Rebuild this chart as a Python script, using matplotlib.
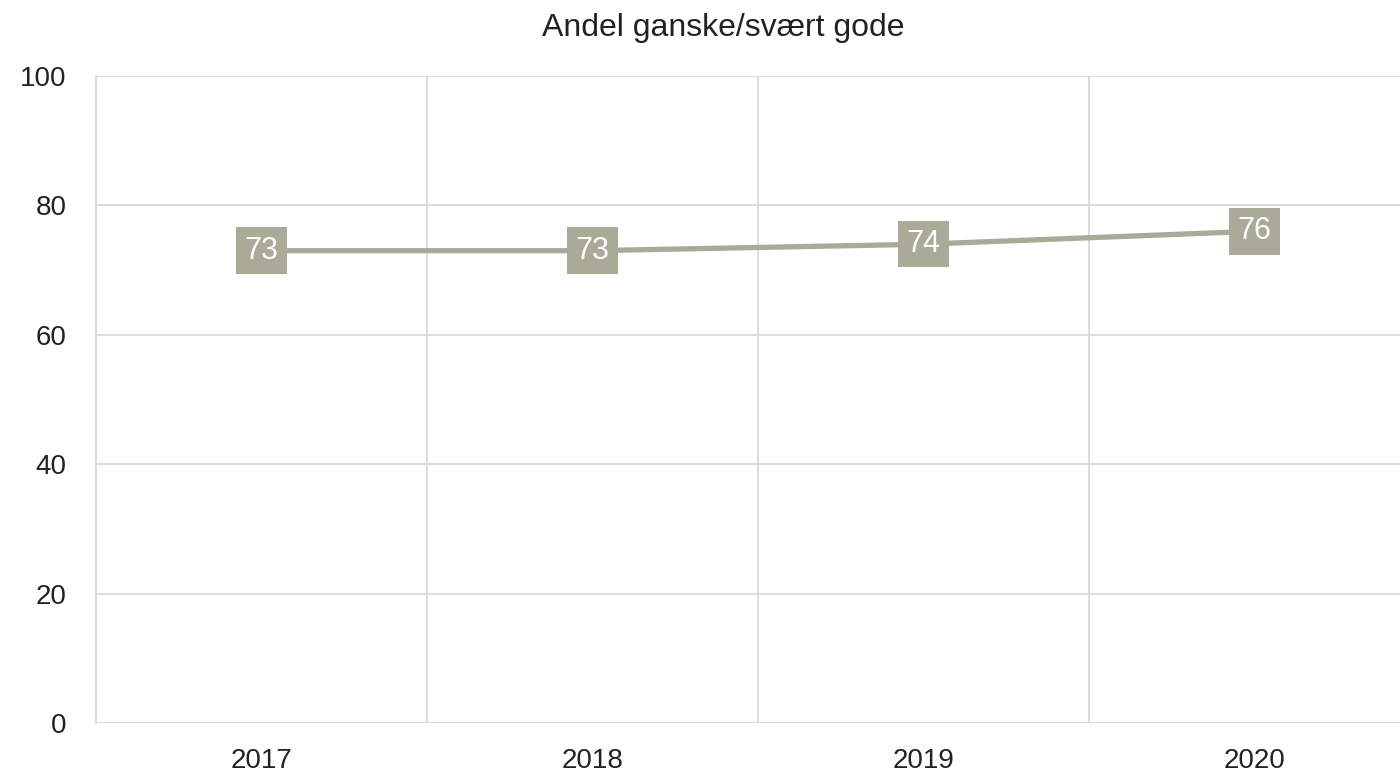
import matplotlib.pyplot as plt

plt.rcParams['font.family'] = ['Liberation Sans', 'DejaVu Sans']

aar = ['2017', '2018', '2019', '2020']
andel = [73, 73, 74, 76]
yticks = [0, 20, 40, 60, 80, 100]

farge = '#aaaa99'
grid = '#d9d9d9'

fig = plt.figure(figsize=(14, 7.75), dpi=100)
ax = fig.add_axes([96/1400, 52/775, 1324/1400, 647/775])

x = list(range(len(aar)))
ax.plot(x, andel, color=farge, linewidth=3.8, solid_capstyle='butt', zorder=3)
for xi, v in zip(x, andel):
    ax.text(xi, v, str(v), ha='center', va='center', color='white', fontsize=22,
            bbox=dict(boxstyle='square,pad=0.27', facecolor=farge, edgecolor='none'),
            zorder=4)

ax.set_xlim(-0.5, 3.5)
ax.set_ylim(0, 100)
ax.set_yticks(yticks)
ax.set_xticks(x)
ax.set_xticklabels(aar)
ax.set_xticks([0.5, 1.5, 2.5], minor=True)
ax.grid(True, which='major', axis='y', color=grid, linewidth=1.3)
ax.grid(True, which='minor', axis='x', color=grid, linewidth=1.3)
ax.tick_params(which='both', length=0, labelsize=20, colors='#222222')
ax.tick_params(axis='x', pad=18)
ax.tick_params(axis='y', pad=21)
for s in ['top', 'right', 'bottom']:
    ax.spines[s].set_visible(False)
ax.spines['left'].set_color(grid)
ax.spines['left'].set_linewidth(1.3)

fig.text(723/1400, 1 - 28/775, 'Andel ganske/svært gode', ha='center', va='center',
         fontsize=23, color='#222222')

fig.savefig('out.png', dpi=100)
